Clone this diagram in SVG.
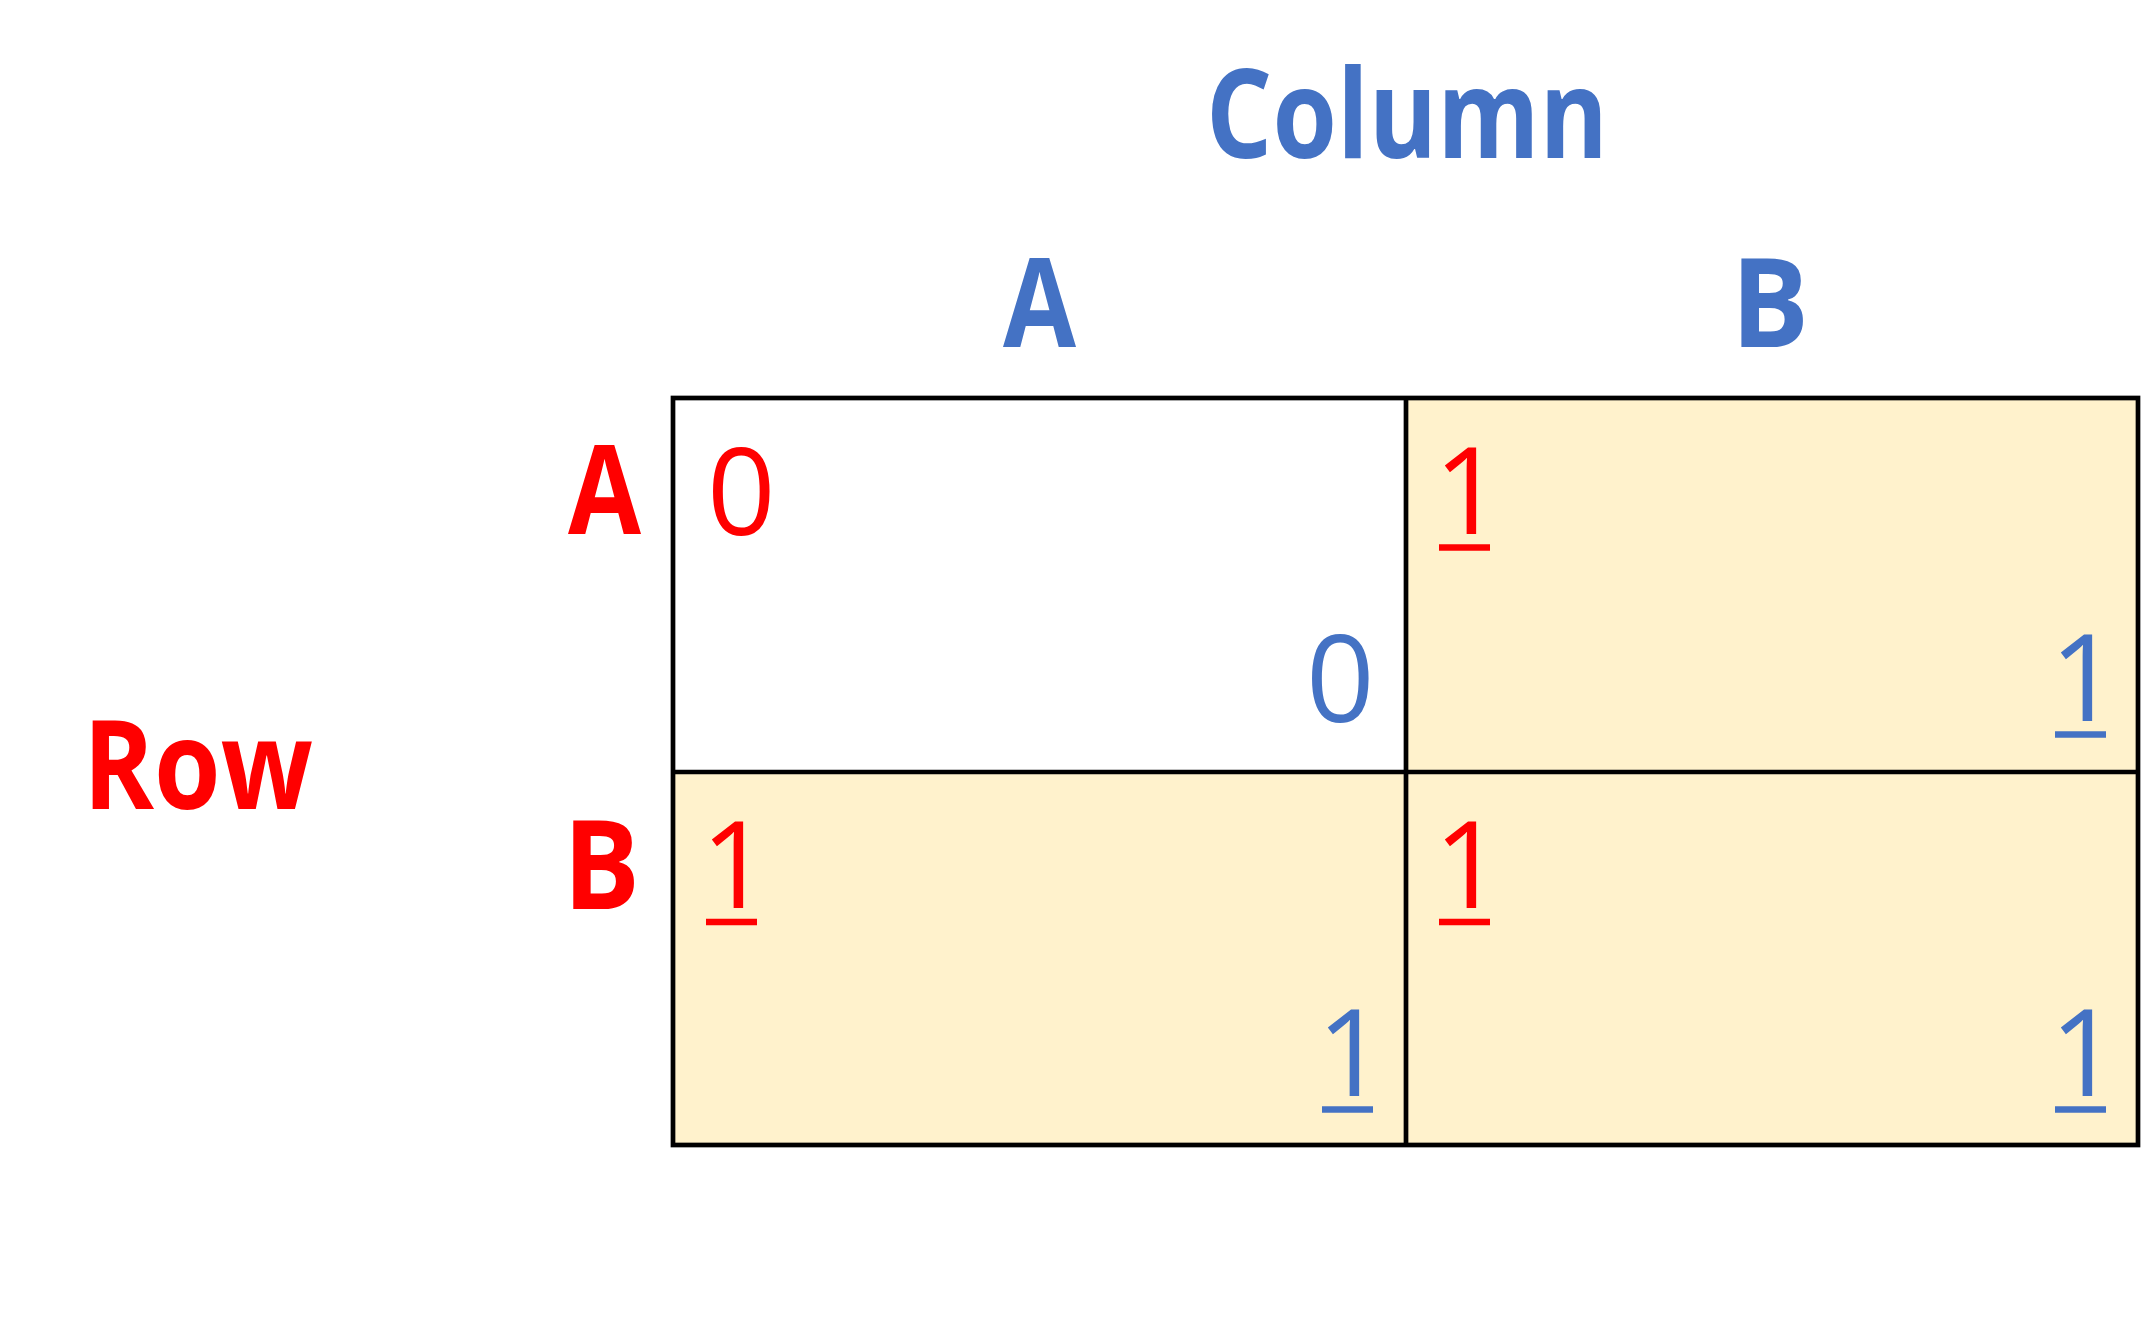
<svg xmlns="http://www.w3.org/2000/svg" width="2145" height="1338" viewBox="0 0 2145 1338">
<style>
.hdr{font-family:"Open Sans","Liberation Sans",Arial,sans-serif;font-weight:bold;font-size:124px}
.num{font-family:"Open Sans","Liberation Sans",Arial,sans-serif;font-size:120px}
.red{fill:#FF0000}
.blue{fill:#4472C4}
.ulr{stroke:#FF0000;stroke-width:6.5}
.ulb{stroke:#4472C4;stroke-width:6.5}
.grid{stroke:#000;stroke-width:4.7;fill:none}
</style>
<rect width="2145" height="1338" fill="#fff"/>
<g id="cells">
<rect x="673" y="398" width="733" height="374" fill="#FFFFFF"/>
<rect x="1406" y="398" width="732" height="374" fill="#FFF2CC"/>
<rect x="673" y="772" width="733" height="373" fill="#FFF2CC"/>
<rect x="1406" y="772" width="732" height="373" fill="#FFF2CC"/>
</g>
<g id="grid">
<rect class="grid" x="673" y="398" width="1465" height="747"/>
<line class="grid" x1="1406" y1="398" x2="1406" y2="1145"/>
<line class="grid" x1="673" y1="772" x2="2138" y2="772"/>
</g>
<g id="labels">
<text id="column-title" class="hdr blue" x="1206" y="158" textLength="402" lengthAdjust="spacingAndGlyphs">Column</text>
<text id="col-A" class="hdr blue" x="1003" y="347" textLength="73" lengthAdjust="spacingAndGlyphs">A</text>
<text id="col-B" class="hdr blue" x="1731" y="347" textLength="78" lengthAdjust="spacingAndGlyphs">B</text>
<text id="row-title" class="hdr red" x="83" y="809" textLength="230" lengthAdjust="spacingAndGlyphs">Row</text>
<text id="row-A" class="hdr red" x="568" y="534" textLength="73" lengthAdjust="spacingAndGlyphs">A</text>
<text id="row-B" class="hdr red" x="563" y="909" textLength="77" lengthAdjust="spacingAndGlyphs">B</text>
</g>
<g id="cell-AA">
<text class="num red" x="707" y="535">0</text>
<text class="num blue" x="1306" y="722">0</text>
</g>
<g id="cell-AB">
<text class="num red" x="1434" y="534">1</text>
<line class="ulr" x1="1439" y1="547.5" x2="1490" y2="547.5"/>
<text class="num blue" x="2050" y="721">1</text>
<line class="ulb" x1="2055" y1="734.5" x2="2106" y2="734.5"/>
</g>
<g id="cell-BA">
<text class="num red" x="701" y="908">1</text>
<line class="ulr" x1="706" y1="922" x2="757" y2="922"/>
<text class="num blue" x="1317" y="1096">1</text>
<line class="ulb" x1="1322" y1="1109.5" x2="1373" y2="1109.5"/>
</g>
<g id="cell-BB">
<text class="num red" x="1434" y="908">1</text>
<line class="ulr" x1="1439" y1="922" x2="1490" y2="922"/>
<text class="num blue" x="2050" y="1096">1</text>
<line class="ulb" x1="2055" y1="1109.5" x2="2106" y2="1109.5"/>
</g>
</svg>
